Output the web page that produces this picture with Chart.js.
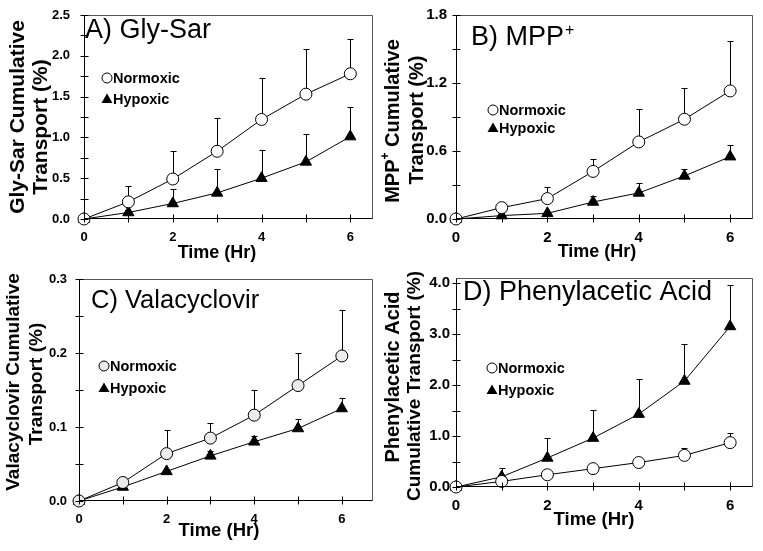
<!DOCTYPE html>
<html>
<head>
<meta charset="utf-8">
<script src="https://cdn.jsdelivr.net/npm/chart.js@4"></script>
<style>
  body { margin: 0; background: #fff; width: 763px; height: 551px; position: relative; overflow: hidden; }
  .panel { position: absolute; }
</style>
</head>
<body>
<div class="panel" style="left:0;top:0;width:380px;height:275px"><canvas id="chartA"></canvas></div>
<div class="panel" style="left:380px;top:0;width:383px;height:275px"><canvas id="chartB"></canvas></div>
<div class="panel" style="left:0;top:270px;width:380px;height:281px"><canvas id="chartC"></canvas></div>
<div class="panel" style="left:380px;top:270px;width:383px;height:281px"><canvas id="chartD"></canvas></div>
<script>
// time points and x tick labels
var timeHr = [0, 1, 2, 3, 4, 5, 6];
var xTickLabels = [0, 2, 4, 6];

// A) Gly-Sar
var glySarNormoxic = [0, 0.21, 0.49, 0.83, 1.22, 1.53, 1.78];
var glySarNormoxicSD = [0, 0.20, 0.34, 0.41, 0.51, 0.55, 0.43];
var glySarHypoxic = [0, 0.08, 0.19, 0.32, 0.50, 0.70, 1.01];
var glySarHypoxicSD = [0, 0, 0.18, 0.29, 0.35, 0.34, 0.36];
var glySarTicks = [0, 0.5, 1.0, 1.5, 2.0, 2.5];

// B) MPP+
var mppNormoxic = [0, 0.10, 0.18, 0.42, 0.68, 0.88, 1.13];
var mppNormoxicSD = [0, 0, 0.10, 0.11, 0.29, 0.28, 0.44];
var mppHypoxic = [0, 0.03, 0.05, 0.15, 0.23, 0.38, 0.55];
var mppHypoxicSD = [0, 0, 0, 0.05, 0.09, 0.06, 0.10];
var mppTicks = [0, 0.6, 1.2, 1.8];

// C) Valacyclovir
var valaNormoxic = [0, 0.025, 0.064, 0.085, 0.116, 0.156, 0.196];
var valaNormoxicSD = [0, 0, 0.032, 0.021, 0.034, 0.044, 0.062];
var valaHypoxic = [0, 0.019, 0.040, 0.061, 0.080, 0.098, 0.125];
var valaHypoxicSD = [0, 0, 0, 0.007, 0.008, 0.013, 0.014];
var valaTicks = [0, 0.1, 0.2, 0.3];

// D) Phenylacetic Acid
var phenNormoxic = [0, 0.11, 0.24, 0.36, 0.48, 0.62, 0.87];
var phenNormoxicSD = [0, 0, 0, 0, 0, 0.15, 0.18];
var phenHypoxic = [0, 0.20, 0.57, 0.96, 1.43, 2.08, 3.15];
var phenHypoxicSD = [0, 0.18, 0.40, 0.55, 0.69, 0.73, 0.81];
var phenTicks = [0, 1.0, 2.0, 3.0, 4.0];

var FONT = 'Arial, "Liberation Sans", Helvetica, sans-serif';

function isIn(list, v) {
    for (var i = 0; i < list.length; i++) {
        if (Math.abs(list[i] - v) < 1e-6) return true;
    }
    return false;
}

// draws a row of text pieces (for the superscript +), centred on 0,0
function drawPieces(ctx, pieces, size) {
    var total = 0;
    pieces.forEach(function (p) {
        ctx.font = 'bold ' + (p.size || size) + 'px ' + FONT;
        p.w = ctx.measureText(p.t).width;
        total += p.w;
    });
    var x = -total / 2;
    pieces.forEach(function (p) {
        ctx.font = 'bold ' + (p.size || size) + 'px ' + FONT;
        ctx.fillText(p.t, x, p.dy || 0);
        x += p.w;
    });
}

function noPadding(s) {
    s.paddingLeft = 0;
    s.paddingRight = 0;
    s.paddingTop = 0;
    s.paddingBottom = 0;
}

var panelDecor = {
    id: 'panelDecor',
    beforeDatasetsDraw: function (chart, args, opts) {
        var ctx = chart.ctx, xs = chart.scales.x, ys = chart.scales.y;
        ctx.save();
        ctx.strokeStyle = '#000';
        ctx.lineWidth = 1;
        chart.data.datasets.forEach(function (ds) {
            ds.errors.forEach(function (e, i) {
                if (!e) return;
                var px = Math.round(xs.getPixelForValue(ds.data[i].x)) + 0.5;
                var y0 = ys.getPixelForValue(ds.data[i].y);
                var y1 = Math.round(ys.getPixelForValue(ds.data[i].y + e)) + 0.5;
                ctx.beginPath();
                ctx.moveTo(px, y0);
                ctx.lineTo(px, y1);
                ctx.moveTo(px - 3, y1);
                ctx.lineTo(px + 3, y1);
                ctx.stroke();
            });
        });
        ctx.restore();
    },
    afterDraw: function (chart, args, opts) {
        var ctx = chart.ctx, a = chart.chartArea, xs = chart.scales.x, ys = chart.scales.y;
        ctx.save();
        ctx.lineWidth = 1;

        // frame
        var L = Math.round(a.left) + 0.5, R = Math.round(a.right) - 0.5;
        var T = Math.round(a.top) + 0.5, B = Math.round(a.bottom) - 0.5;
        ctx.strokeStyle = '#555';
        ctx.beginPath();
        ctx.moveTo(L, T); ctx.lineTo(R, T); ctx.lineTo(R, B);
        ctx.stroke();
        ctx.strokeStyle = '#000';
        ctx.beginPath();
        ctx.moveTo(L, T); ctx.lineTo(L, B); ctx.lineTo(R, B);
        ctx.stroke();

        // tick marks crossing the axes
        ctx.beginPath();
        ys.ticks.forEach(function (t) {
            var k = t.value / opts.yStep;
            if (Math.abs(k - Math.round(k)) > 1e-6) return;
            var py = Math.round(ys.getPixelForValue(t.value)) + 0.5;
            ctx.moveTo(L - 4, py); ctx.lineTo(L + 4, py);
        });
        xs.ticks.forEach(function (t) {
            if (Math.abs(t.value - Math.round(t.value)) > 1e-6) return;
            var px = Math.round(xs.getPixelForValue(t.value)) + 0.5;
            ctx.moveTo(px, B - 4); ctx.lineTo(px, B + 4);
        });
        ctx.stroke();

        ctx.fillStyle = '#000';

        // panel title
        ctx.textAlign = 'left';
        ctx.textBaseline = 'alphabetic';
        ctx.font = opts.title.size + 'px ' + FONT;
        ctx.fillText(opts.title.text, opts.title.x, opts.title.y);
        if (opts.title.sup) {
            var w = ctx.measureText(opts.title.text).width;
            ctx.font = Math.round(opts.title.size * 0.6) + 'px ' + FONT;
            ctx.fillText(opts.title.sup, opts.title.x + w + 1, opts.title.y - 10);
        }

        // legend
        ctx.font = 'bold 14.5px ' + FONT;
        ctx.textBaseline = 'middle';
        var lg = opts.legend;
        ctx.beginPath();
        ctx.arc(lg.x, lg.y1, 5, 0, Math.PI * 2);
        ctx.fillStyle = lg.fill;
        ctx.fill();
        ctx.strokeStyle = '#000';
        ctx.stroke();
        ctx.fillStyle = '#000';
        ctx.beginPath();
        ctx.moveTo(lg.x, lg.y2 - 5.5);
        ctx.lineTo(lg.x + 5.5, lg.y2 + 4);
        ctx.lineTo(lg.x - 5.5, lg.y2 + 4);
        ctx.closePath();
        ctx.fill();
        ctx.fillText(chart.data.datasets[0].label, lg.x + 6, lg.y1 + 1);
        ctx.fillText(chart.data.datasets[1].label, lg.x + 6, lg.y2 + 1);

        // axis titles
        ctx.textAlign = 'left';
        opts.yTitle.forEach(function (line) {
            ctx.save();
            ctx.translate(line.x, line.y);
            ctx.rotate(-Math.PI / 2);
            drawPieces(ctx, line.pieces, line.size);
            ctx.restore();
        });
        ctx.save();
        ctx.translate(opts.xTitle.x, opts.xTitle.y);
        drawPieces(ctx, [{ t: 'Time (Hr)' }], opts.xTitle.size);
        ctx.restore();

        ctx.restore();
    }
};

function makePanel(id, p) {
    var ctx = document.getElementById(id).getContext('2d');
    function pts(vals) {
        return timeHr.map(function (t, i) { return { x: t, y: vals[i] }; });
    }
    return new Chart(ctx, {
        type: 'line',
        data: {
            datasets: [{
                label: 'Normoxic',
                data: pts(p.normoxic),
                errors: p.normoxicSD,
                borderColor: '#000',
                borderWidth: 1,
                pointStyle: 'circle',
                pointRadius: 6,
                pointBackgroundColor: p.circleFill,
                pointBorderColor: '#000',
                pointBorderWidth: 1,
                clip: false
            }, {
                label: 'Hypoxic',
                data: pts(p.hypoxic),
                errors: p.hypoxicSD,
                borderColor: '#000',
                borderWidth: 1,
                pointStyle: 'triangle',
                pointRadius: 6.5,
                pointBackgroundColor: '#000',
                pointBorderColor: '#000',
                pointBorderWidth: 1,
                clip: false
            }]
        },
        options: {
            responsive: true,
            maintainAspectRatio: false,
            animation: false,
            layout: { padding: p.padding },
            plugins: {
                legend: { display: false },
                tooltip: { enabled: false },
                panelDecor: {
                    yStep: p.yStep,
                    title: p.title,
                    legend: p.legend,
                    yTitle: p.yTitle,
                    xTitle: p.xTitle
                }
            },
            scales: {
                x: {
                    type: 'linear',
                    min: 0,
                    max: p.xMax,
                    grid: { display: false, drawTicks: false },
                    border: { display: false },
                    ticks: {
                        stepSize: 1,
                        includeBounds: false,
                        autoSkip: false,
                        maxRotation: 0,
                        padding: p.xPad,
                        color: '#000',
                        font: { family: FONT, size: p.tickSize, weight: 'bold' },
                        callback: function (v) { return isIn(xTickLabels, v) ? String(v) : ''; }
                    },
                    afterFit: function (s) { s.height = p.xh; noPadding(s); }
                },
                y: {
                    min: 0,
                    max: p.yMax,
                    grid: { display: false, drawTicks: false },
                    border: { display: false },
                    ticks: {
                        stepSize: p.yStep,
                        includeBounds: false,
                        autoSkip: false,
                        padding: p.yPad,
                        color: '#000',
                        font: { family: FONT, size: p.tickSize, weight: 'bold' },
                        callback: function (v) { return isIn(p.yLabels, v) ? v.toFixed(1) : ''; }
                    },
                    afterFit: function (s) { s.width = p.yw; noPadding(s); }
                }
            }
        },
        plugins: [panelDecor]
    });
}

makePanel('chartA', {
    normoxic: glySarNormoxic, normoxicSD: glySarNormoxicSD,
    hypoxic: glySarHypoxic, hypoxicSD: glySarHypoxicSD,
    yLabels: glySarTicks, yMax: 2.5, yStep: 0.25, xMax: 6.5,
    padding: { left: 0, top: 15, right: 4, bottom: 0 }, yw: 84, xh: 56,
    yPad: 14, xPad: 11, tickSize: 13, circleFill: '#fff',
    title: { text: 'A) Gly-Sar', x: 85, y: 37.5, size: 27 },
    legend: { x: 107, y1: 78, y2: 99, fill: '#fff' },
    yTitle: [
        { pieces: [{ t: 'Gly-Sar Cumulative' }], x: 18, y: 117, size: 21 },
        { pieces: [{ t: 'Transport (%)' }], x: 41, y: 127, size: 21 }
    ],
    xTitle: { x: 217, y: 253, size: 18 }
});

makePanel('chartB', {
    normoxic: mppNormoxic, normoxicSD: mppNormoxicSD,
    hypoxic: mppHypoxic, hypoxicSD: mppHypoxicSD,
    yLabels: mppTicks, yMax: 1.8, yStep: 0.3, xMax: 6.5,
    padding: { left: 0, top: 15, right: 10, bottom: 0 }, yw: 76, xh: 56,
    yPad: 9, xPad: 10, tickSize: 15, circleFill: '#fff',
    title: { text: 'B) MPP', sup: '+', x: 91, y: 45, size: 27 },
    legend: { x: 113, y1: 110, y2: 128, fill: '#fff' },
    yTitle: [
        { pieces: [{ t: 'MPP' }, { t: '+', size: 12, dy: -7 }, { t: ' Cumulative' }], x: 13, y: 121, size: 20 },
        { pieces: [{ t: 'Transport (%)' }], x: 37, y: 120, size: 20 }
    ],
    xTitle: { x: 217, y: 252, size: 18 }
});

makePanel('chartC', {
    normoxic: valaNormoxic, normoxicSD: valaNormoxicSD,
    hypoxic: valaHypoxic, hypoxicSD: valaHypoxicSD,
    yLabels: valaTicks, yMax: 0.3, yStep: 0.05, xMax: 6.7,
    padding: { left: 0, top: 9, right: 4, bottom: 0 }, yw: 79, xh: 50,
    yPad: 12, xPad: 11, tickSize: 13, circleFill: '#ececec',
    title: { text: 'C) Valacyclovir', x: 91, y: 38, size: 25.5 },
    legend: { x: 104, y1: 96, y2: 118, fill: '#ececec' },
    yTitle: [
        { pieces: [{ t: 'Valacyclovir Cumulative' }], x: 14, y: 112, size: 19 },
        { pieces: [{ t: 'Transport (%)' }], x: 37, y: 114, size: 19 }
    ],
    xTitle: { x: 219, y: 261, size: 18.5 }
});

makePanel('chartD', {
    normoxic: phenNormoxic, normoxicSD: phenNormoxicSD,
    hypoxic: phenHypoxic, hypoxicSD: phenHypoxicSD,
    yLabels: phenTicks, yMax: 4.1, yStep: 0.5, xMax: 6.5,
    padding: { left: 0, top: 8, right: 10, bottom: 0 }, yw: 76, xh: 64,
    yPad: 6, xPad: 10, tickSize: 15, circleFill: '#fff',
    title: { text: 'D) Phenylacetic Acid', x: 83, y: 30, size: 27 },
    legend: { x: 112, y1: 98, y2: 120, fill: '#fff' },
    yTitle: [
        { pieces: [{ t: 'Phenylacetic Acid' }], x: 13, y: 107, size: 20 },
        { pieces: [{ t: 'Cumulative Transport (%)' }], x: 35, y: 116, size: 19 }
    ],
    xTitle: { x: 214, y: 250, size: 18.5 }
});
</script>
</body>
</html>
